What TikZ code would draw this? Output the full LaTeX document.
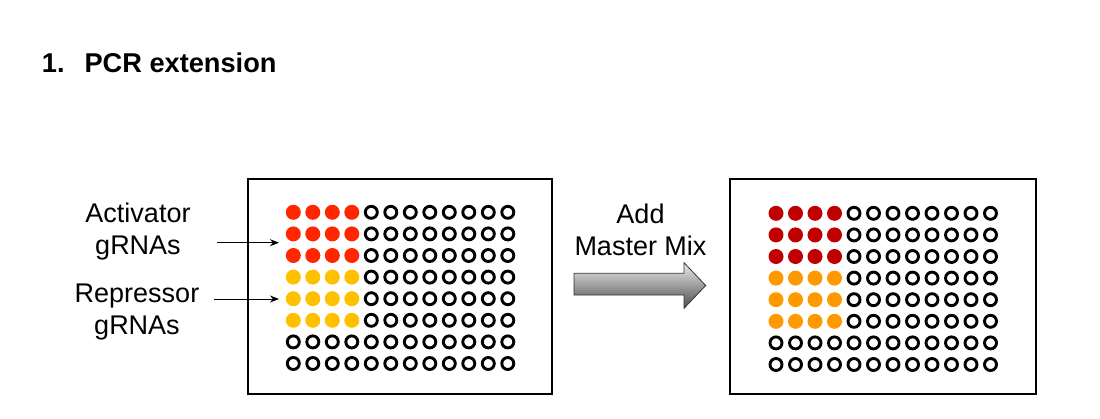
\documentclass[tikz,border=0pt]{standalone}
\usepackage{fontspec}
\setmainfont{Liberation Sans}
\usetikzlibrary{arrows.meta}
\definecolor{actred}{HTML}{FF2600}
\definecolor{repyel}{HTML}{FFC000}
\definecolor{mixred}{HTML}{C00000}
\definecolor{mixorg}{HTML}{FF9900}
\tikzset{
  plate/.style={draw=black, line width=2.2pt},
  fulldot/.style={circle, inner sep=0pt, minimum size=15pt},
  emptydot/.style={circle, draw=black, line width=2.9pt, inner sep=0pt, minimum size=12pt},
  lbl/.style={font=\fontsize{27}{32}\selectfont, align=center, inner sep=0pt},
  pointer/.style={line width=0.9pt, -{Stealth[length=9pt,width=7pt]}},
}
\begin{document}
\begin{tikzpicture}[x=1pt,y=-1pt]
\useasboundingbox (0,0) rectangle (1100,418);
% title
\node[anchor=base west, inner sep=0pt, font=\fontsize{27.2}{30}\selectfont\bfseries] (title) at (41.7,72.7) {1.\hspace{20pt}PCR extension};
% plates
\node[plate, minimum width=304pt, minimum height=215pt, inner sep=0pt, anchor=north west] (plateA) at (247,178) {};
\node[plate, minimum width=306pt, minimum height=215pt, inner sep=0pt, anchor=north west] (plateB) at (729,178) {};
% wells
\foreach \r in {0,...,7}{
  \foreach \c in {0,...,11}{
    \ifnum\c<4
      \ifnum\r<3
        \node[fulldot, fill=actred] (a\r-\c) at (293.3+19.5*\c, 212.3+21.6*\r) {};
        \node[fulldot, fill=mixred] (b\r-\c) at (776+19.5*\c, 213.3+21.6*\r) {};
      \else\ifnum\r<6
        \node[fulldot, fill=repyel] (a\r-\c) at (293.3+19.5*\c, 212.3+21.6*\r) {};
        \node[fulldot, fill=mixorg] (b\r-\c) at (776+19.5*\c, 213.3+21.6*\r) {};
      \else
        \node[emptydot] (a\r-\c) at (293.3+19.5*\c, 212.3+21.6*\r) {};
        \node[emptydot] (b\r-\c) at (776+19.5*\c, 213.3+21.6*\r) {};
      \fi\fi
    \else
      \node[emptydot] (a\r-\c) at (293.3+19.5*\c, 212.3+21.6*\r) {};
      \node[emptydot] (b\r-\c) at (776+19.5*\c, 213.3+21.6*\r) {};
    \fi
  }
}
% labels
\node[lbl, anchor=north] (act) at (138,202.4) {Activator\\gRNAs};
\node[lbl, anchor=north] (rep) at (137,283.4) {Repressor\\gRNAs};
\coordinate (actfrom) at (217,242.7);
\coordinate (actto) at (279,242.7);
\coordinate (repfrom) at (214,299);
\coordinate (repto) at (279,299);
\draw[pointer] (actfrom) -- (actto);
\draw[pointer] (repfrom) -- (repto);
% add master mix
\node[lbl, anchor=north] (add) at (640.5,203.7) {Add\\Master Mix};
\shade[top color=gray!15, bottom color=black!70, draw=black!80, line width=0.8pt]
  (574,273.3) -- (684,273.3) -- (684,262.7) -- (705.7,285.5) -- (684,308.3) -- (684,295) -- (574,295) -- cycle;
\end{tikzpicture}
\end{document}
